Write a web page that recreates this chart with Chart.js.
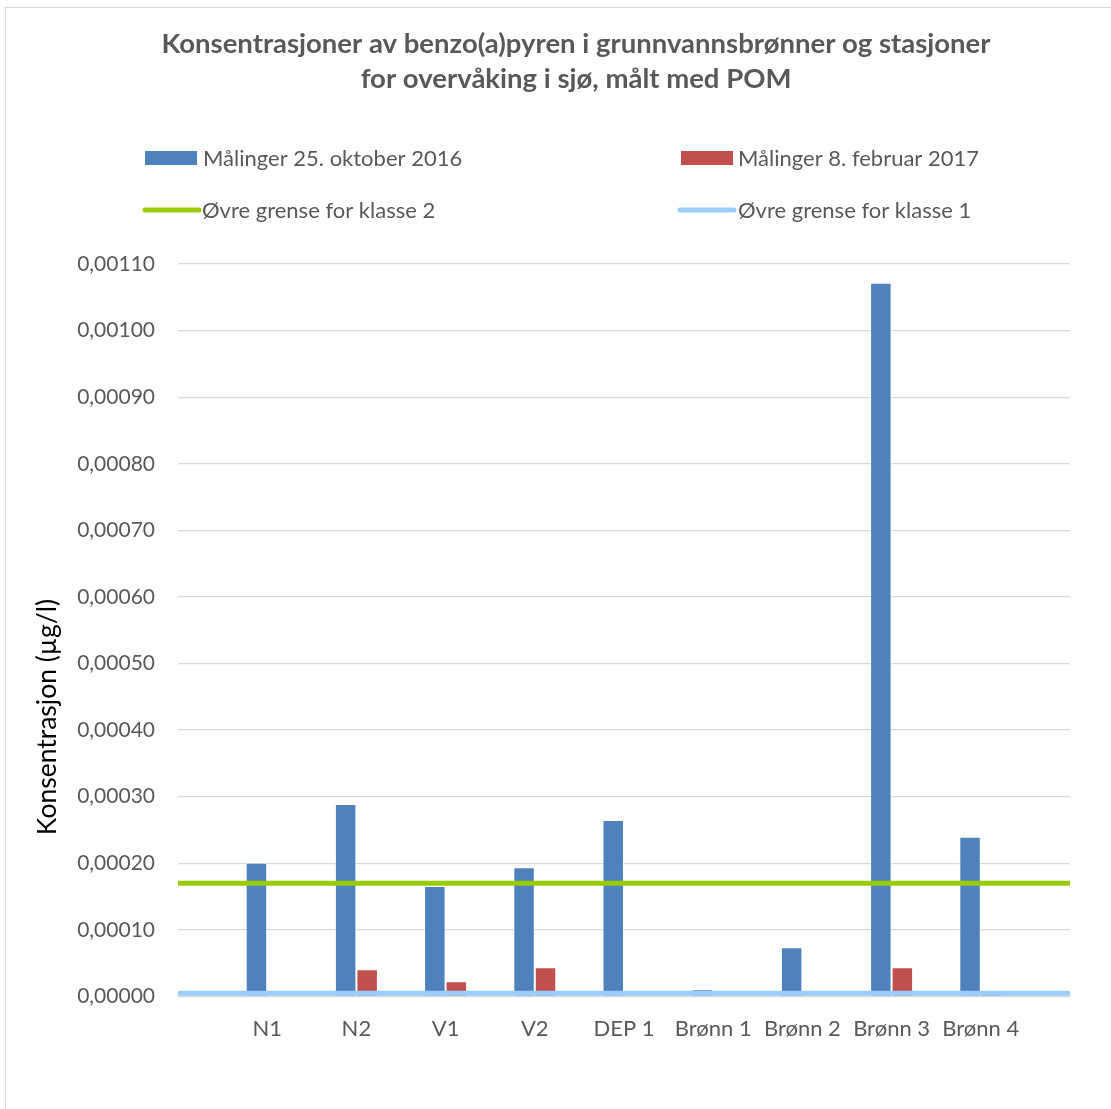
<!DOCTYPE html>
<html lang="no">
<head>
<meta charset="utf-8">
<title>Benzo(a)pyren – grunnvannsbrønner og stasjoner</title>
<script src="https://cdn.jsdelivr.net/npm/chart.js@4.4.1/dist/chart.umd.min.js"></script>
<style>
  html, body { margin: 0; padding: 0; background: #ffffff; overflow: hidden; width: 1111px; height: 1109px; }
  #frame { position: absolute; left: 5px; top: 7px; width: 1140px; height: 1110px; border: 1px solid #d9d9d9; background: #fff; }
  #frame canvas { display: block; }
</style>
</head>
<body>
<div id="frame"><canvas id="chart" width="1140" height="1110"></canvas></div>
<script>
// Stasjoner / brønner
const categories = ['N1', 'N2', 'V1', 'V2', 'DEP 1', 'Brønn 1', 'Brønn 2', 'Brønn 3', 'Brønn 4'];

// Konsentrasjon benzo(a)pyren (µg/l)
const maalingerOkt2016 = [0.000201, 0.000289, 0.000166, 0.000194, 0.000265, 0.000011, 0.000074, 0.001072, 0.000240];
const maalingerFeb2017 = [null, 0.000041, 0.000023, 0.000044, null, null, null, 0.000044, 0.000009];

// Klassegrenser (µg/l)
const grenseKlasse2 = 0.00017;
const grenseKlasse1 = 0.000005;

// Y-akse
const yMin = 0;
const yMax = 0.0011;
const yStep = 0.0001;

const seriesNames = ['Målinger 25. oktober 2016', 'Målinger 8. februar 2017', 'Øvre grense for klasse 2', 'Øvre grense for klasse 1'];
const titleLines = ['Konsentrasjoner av benzo(a)pyren i grunnvannsbrønner og stasjoner', 'for overvåking i sjø, målt med POM'];
const yTitle = 'Konsentrasjon (µg/l)';

const FONT = 'Lato, "Open Sans", "DejaVu Sans", sans-serif';
const GREY = '#595959';

// Empty slots at both ends so the limit lines run across the whole plot
const labels = [''].concat(categories, ['']);
const padSeries = arr => [null].concat(arr, [null]);
const fullLine = v => labels.map(() => v);

const colors = {
  okt: '#4f81bd',
  feb: '#c0504d',
  k2: '#99cc00',
  k1: '#99ccff'
};

// Two-column legend and rotated axis title
const decorations = {
  id: 'decorations',
  afterDraw(chart) {
    const ctx = chart.ctx;
    ctx.save();
    ctx.font = '22px ' + FONT;
    ctx.fillStyle = GREY;
    ctx.textBaseline = 'middle';
    ctx.textAlign = 'left';
    const items = [
      { kind: 'box', ds: 0, x: 139, y: 150, tx: 197 },
      { kind: 'box', ds: 1, x: 675, y: 150, tx: 732 },
      { kind: 'line', ds: 2, x: 139, y: 202, tx: 196 },
      { kind: 'line', ds: 3, x: 674, y: 202, tx: 732 }
    ];
    items.forEach(it => {
      const ds = chart.data.datasets[it.ds];
      if (it.kind === 'box') {
        ctx.fillStyle = ds.backgroundColor;
        ctx.fillRect(it.x, it.y - 7, 52, 14);
      } else {
        ctx.strokeStyle = ds.borderColor;
        ctx.lineWidth = 5;
        ctx.lineCap = 'round';
        ctx.beginPath();
        ctx.moveTo(it.x, it.y);
        ctx.lineTo(it.x + 54, it.y);
        ctx.stroke();
      }
      ctx.fillStyle = GREY;
      ctx.fillText(ds.label, it.tx, it.y + 1);
    });

    ctx.translate(41, 709);
    ctx.rotate(-Math.PI / 2);
    ctx.font = '26.5px ' + FONT;
    ctx.fillStyle = '#000000';
    ctx.textAlign = 'center';
    ctx.fillText(yTitle, 0, 0);
    ctx.restore();
  }
};

new Chart(document.getElementById('chart'), {
  type: 'bar',
  data: {
    labels: labels,
    datasets: [
      {
        label: seriesNames[0],
        data: padSeries(maalingerOkt2016),
        backgroundColor: colors.okt,
        borderColor: 'rgba(255,255,255,0.45)',
        borderWidth: 1,
        order: 2
      },
      {
        label: seriesNames[1],
        data: padSeries(maalingerFeb2017),
        backgroundColor: colors.feb,
        borderColor: 'rgba(255,255,255,0.45)',
        borderWidth: 1,
        order: 2
      },
      {
        type: 'line',
        label: seriesNames[2],
        data: fullLine(grenseKlasse2),
        borderColor: colors.k2,
        backgroundColor: colors.k2,
        borderWidth: 5,
        pointRadius: 0,
        fill: false,
        order: 1
      },
      {
        type: 'line',
        label: seriesNames[3],
        data: fullLine(grenseKlasse1),
        borderColor: colors.k1,
        backgroundColor: colors.k1,
        borderWidth: 5,
        pointRadius: 0,
        fill: false,
        order: 0
      }
    ]
  },
  options: {
    responsive: false,
    animation: false,
    layout: { padding: 0 },
    datasets: {
      bar: { categoryPercentage: 0.482, barPercentage: 1.0 }
    },
    plugins: {
      legend: { display: false },
      tooltip: { enabled: false },
      title: {
        display: true,
        text: titleLines,
        color: GREY,
        font: { family: FONT, size: 27.5, weight: 'bold', lineHeight: 35 / 27.5 },
        padding: { top: 18.5, bottom: 167.5 }
      }
    },
    scales: {
      x: {
        type: 'category',
        offset: false,
        grid: { display: false },
        border: { display: false },
        ticks: {
          color: GREY,
          font: { family: FONT, size: 22 },
          padding: 11,
          maxRotation: 0,
          autoSkip: false
        },
        afterFit(scale) { scale.height = 121.5; }
      },
      y: {
        min: yMin,
        max: yMax,
        border: { display: false },
        grid: { color: '#d9d9d9', lineWidth: 1.3, drawTicks: false },
        ticks: {
          stepSize: yStep,
          color: GREY,
          font: { family: FONT, size: 21 },
          padding: 23,
          callback: v => Number(v).toFixed(5).replace('.', ',')
        },
        afterFit(scale) { scale.width = 172; }
      },
      // blank margin on the right side of the plot
      yRight: {
        type: 'linear',
        position: 'right',
        min: yMin,
        max: yMax,
        grid: { display: false },
        border: { display: false },
        ticks: { display: false },
        afterFit(scale) { scale.width = 76; }
      }
    }
  },
  plugins: [decorations]
});
</script>
</body>
</html>
